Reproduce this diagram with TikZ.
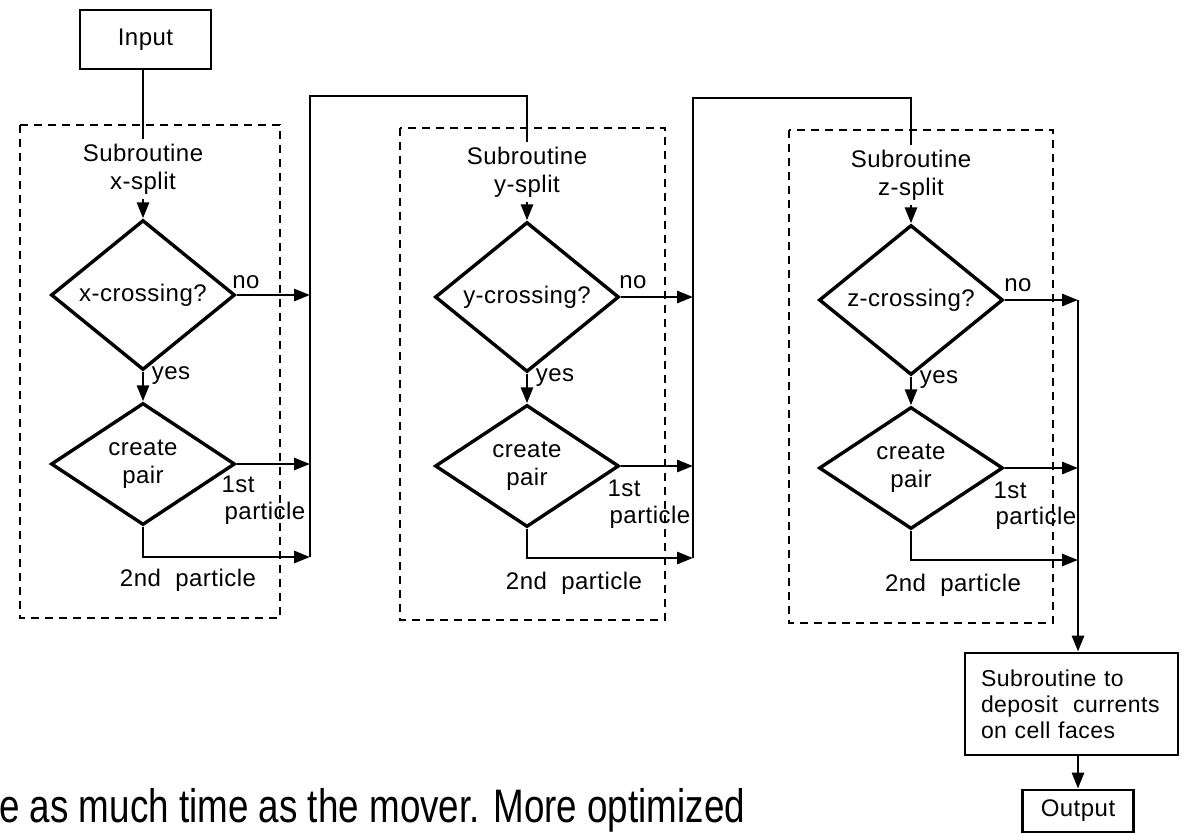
\documentclass[tikz,border=0pt]{standalone}
\usepackage{fontspec}
\setmainfont{Liberation Sans}
\newfontfamily\diagfont[LetterSpace=2]{Liberation Sans}
\usetikzlibrary{shapes.geometric,arrows.meta}
\begin{document}
\begin{tikzpicture}[x=1pt,y=-1pt,
  every node/.style={font=\diagfont\fontsize{24}{28}\selectfont},
  dec/.style={draw,line width=3.4pt,diamond,minimum width=184pt,minimum height=122pt,inner sep=0pt,align=center},
  sub/.style={align=center,inner xsep=0pt,inner ysep=5pt},
  box/.style={draw,line width=2.8pt},
  frame/.style={line width=2.2pt,dash pattern=on 8pt off 6pt},
  line/.style={line width=2.8pt},
  arr/.style={line width=2.8pt,-{Triangle[length=16pt,width=12pt]}},
  lbl/.style={inner sep=0pt}]
\useasboundingbox (0,0) rectangle (1185,834);

% frames
\draw[frame] (20,125) rectangle (280,618);
\draw[frame] (400,128) rectangle (665,620);
\draw[frame] (789,130) rectangle (1053,623);

% Input
\node[box,minimum width=131pt,minimum height=59pt,inner sep=0pt] (in) at (145.5,39.5) {Input};

% column 1
\node[sub] (sub1) at (143,169) {Subroutine\\x-split};
\node[dec] (d1) at (143,295) {x-crossing?};
\node[dec] (d2) at (143,464) {create\\pair};
% column 2
\node[sub] (sub2) at (527,172) {Subroutine\\y-split};
\node[dec] (d3) at (527,297) {y-crossing?};
\node[dec] (d4) at (527,466) {create\\pair};
% column 3
\node[sub] (sub3) at (911,175) {Subroutine\\z-split};
\node[dec] (d5) at (911,300) {z-crossing?};
\node[dec] (d6) at (911,468) {create\\pair};

% deposit and output
\node[box,align=left,text width=181pt,inner xsep=16pt,minimum height=102pt,
  font=\diagfont\fontsize{23}{26}\selectfont] (dep) at (1071.5,704)
  {Subroutine to\\deposit\ \ currents\\on cell faces};
\node[box,minimum width=111pt,minimum height=42pt,inner sep=0pt] (out) at (1078,811) {Output};

% bus coordinates
\coordinate (b1) at (310,96);
\coordinate (e1) at (310,557);
\coordinate (b2) at (693,98);
\coordinate (e2) at (693,558);
\coordinate (b3) at (1078,300);
\coordinate (e3) at (1078,560);

% connectors column 1
\draw[line] (sub1.north |- in.south) -- (sub1.north);
\draw[arr] (sub1.south) -- (d1.north);
\draw[arr] (d1.south) -- (d2.north);
\draw[arr] (d1.east) -- (d1.east -| b1);
\draw[arr] (d2.east) -- (d2.east -| b1);
\draw[arr] (d2.south) |- (e1);
\draw[line] (e1) -- (b1) -| (sub2.north);

% connectors column 2
\draw[arr] (sub2.south) -- (d3.north);
\draw[arr] (d3.south) -- (d4.north);
\draw[arr] (d3.east) -- (d3.east -| b2);
\draw[arr] (d4.east) -- (d4.east -| b2);
\draw[arr] (d4.south) |- (e2);
\draw[line] (e2) -- (b2) -| (sub3.north);

% connectors column 3
\draw[arr] (sub3.south) -- (d5.north);
\draw[arr] (d5.south) -- (d6.north);
\draw[arr] (d5.east) -- (d5.east -| b3);
\draw[arr] (d6.east) -- (d6.east -| b3);
\draw[arr] (d6.south) |- (e3);
\draw[arr] (d5.east -| b3) -- (b3 |- dep.north);
\draw[arr] (out.north |- dep.south) -- (out.north);

% labels
\node[lbl] (no1) at (246,282) {no};
\node[lbl] (yes1) at (171,376) {yes};
\node[lbl] (st1) at (238,484) {1st};
\node[lbl] (pa1) at (265,513) {particle};
\node[lbl] (nd1) at (188,580) {2nd\ \ particle};

\node[lbl] (no2) at (633,282) {no};
\node[lbl] (yes2) at (555,378) {yes};
\node[lbl] (st2) at (624,488) {1st};
\node[lbl] (pa2) at (650,517) {particle};
\node[lbl] (nd2) at (574,583) {2nd\ \ particle};

\node[lbl] (no3) at (1018,285) {no};
\node[lbl] (yes3) at (939,380) {yes};
\node[lbl] (st3) at (1010,490) {1st};
\node[lbl] (pa3) at (1036,518) {particle};
\node[lbl] (nd3) at (953,585) {2nd\ \ particle};

% caption fragment
\node[anchor=base west,inner sep=0pt,font=\fontsize{47}{50}\selectfont] (cap) at (-1,822)
  {\scalebox{0.783}[1]{e as much time as the mover. More optimized}};
\end{tikzpicture}
\end{document}
